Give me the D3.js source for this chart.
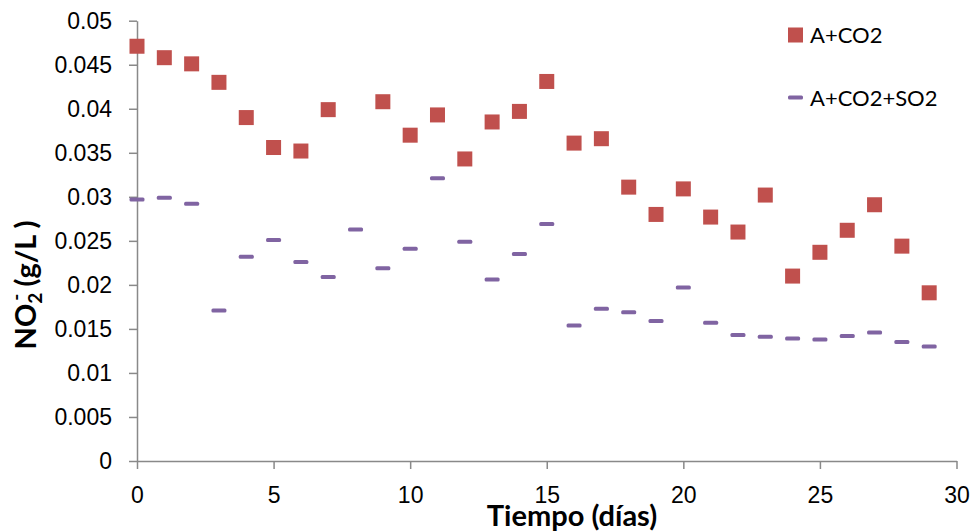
<!DOCTYPE html>
<html>
<head>
<meta charset="utf-8">
<script src="https://cdn.jsdelivr.net/npm/d3@7"></script>
<style>
  body { margin: 0; background: #fff; }
  svg { font-family: Lato, "Open Sans", sans-serif; }
  .axis path, .axis line { stroke: #898989; stroke-width: 1.5px; }
  .axis text { fill: #000; font-size: 23px; }
</style>
</head>
<body>
<script>
var width = 973,
  height = 532;

// days
var days = d3.range(0, 30);

// A+CO2 (day 8 missing)
var co2 = [0.0471, 0.0458, 0.0451, 0.0430, 0.0390, 0.0356, 0.0352, 0.0399, null, 0.0408,
  0.0370, 0.0393, 0.0343, 0.0385, 0.0397, 0.0431, 0.0361, 0.0366, 0.0311, 0.0280,
  0.0309, 0.0277, 0.0260, 0.0302, 0.0210, 0.0237, 0.0262, 0.0291, 0.0244, 0.0191];

// A+CO2+SO2
var co2so2 = [0.0297, 0.0299, 0.0292, 0.0171, 0.0232, 0.0251, 0.0226, 0.0209, 0.0263, 0.0219,
  0.0241, 0.0321, 0.0249, 0.0206, 0.0235, 0.0269, 0.0154, 0.0173, 0.0169, 0.0159,
  0.0197, 0.0157, 0.0143, 0.0141, 0.0139, 0.0138, 0.0142, 0.0146, 0.0135, 0.0130];

var xTicks = [0, 5, 10, 15, 20, 25, 30];
var yTicks = [0, 0.005, 0.01, 0.015, 0.02, 0.025, 0.03, 0.035, 0.04, 0.045, 0.05];
var seriesNames = ["A+CO2", "A+CO2+SO2"];
var red = "#C0504D", purple = "#8064A2";

var svg = d3.select("body").append("svg")
  .attr("width", width)
  .attr("height", height);

var x = d3.scaleLinear().domain([0, 30]).range([137, 956.5]);
var y = d3.scaleLinear().domain([0, 0.05]).range([461, 20.7]);

// axes
svg.append("g")
  .attr("class", "axis")
  .attr("transform", "translate(0," + y(0) + ")")
  .call(d3.axisBottom(x).tickValues(xTicks).tickSizeInner(8).tickSizeOuter(0).tickPadding(18).tickFormat(d3.format("d")));

svg.append("g")
  .attr("class", "axis")
  .attr("transform", "translate(" + x(0) + ",0)")
  .call(d3.axisLeft(y).tickValues(yTicks).tickSizeInner(8).tickSizeOuter(0).tickPadding(17).tickFormat(function (d) { return d === 0 ? "0" : String(+d.toFixed(3)); }));

// series 2 dashes
svg.append("g")
  .selectAll("rect")
  .data(days.filter(function (d) { return co2so2[d] != null; }))
  .enter()
  .append("rect")
  .attr("x", function (d) { return x(d) - 7.5; })
  .attr("y", function (d) { return y(co2so2[d]) - 2; })
  .attr("width", 15)
  .attr("height", 4)
  .attr("rx", 1.5)
  .attr("fill", purple);

// series 1 squares
svg.append("g")
  .selectAll("rect")
  .data(days.filter(function (d) { return co2[d] != null; }))
  .enter()
  .append("rect")
  .attr("x", function (d) { return x(d) - 7.5; })
  .attr("y", function (d) { return y(co2[d]) - 7.5; })
  .attr("width", 15)
  .attr("height", 15)
  .attr("fill", red);

// legend
var leg = svg.append("g");
leg.append("rect").attr("x", 788).attr("y", 27.5).attr("width", 15).attr("height", 15).attr("fill", red);
leg.append("rect").attr("x", 788).attr("y", 95.5).attr("width", 15).attr("height", 4).attr("rx", 1.5).attr("fill", purple);
leg.selectAll("text")
  .data(seriesNames)
  .enter()
  .append("text")
  .attr("x", 810)
  .attr("y", function (d, i) { return 43 + i * 63; })
  .style("font-size", "22px")
  .text(function (d) { return d; });

// axis titles
svg.append("text")
  .attr("x", 572)
  .attr("y", 526)
  .attr("text-anchor", "middle")
  .style("font-size", "29px")
  .style("font-weight", "bold")
  .text("Tiempo (días)");

var yt = svg.append("text")
  .attr("transform", "translate(36,285) rotate(-90)")
  .attr("text-anchor", "middle")
  .style("font-size", "29px")
  .style("font-weight", "bold");
yt.append("tspan").text("NO");
yt.append("tspan").attr("dy", 6).style("font-size", "19px").text("2");
yt.append("tspan").attr("dx", -8).attr("dy", -19).style("font-size", "19px").text("-");
yt.append("tspan").attr("dy", 13).text(" (g/L )");
</script>
</body>
</html>
